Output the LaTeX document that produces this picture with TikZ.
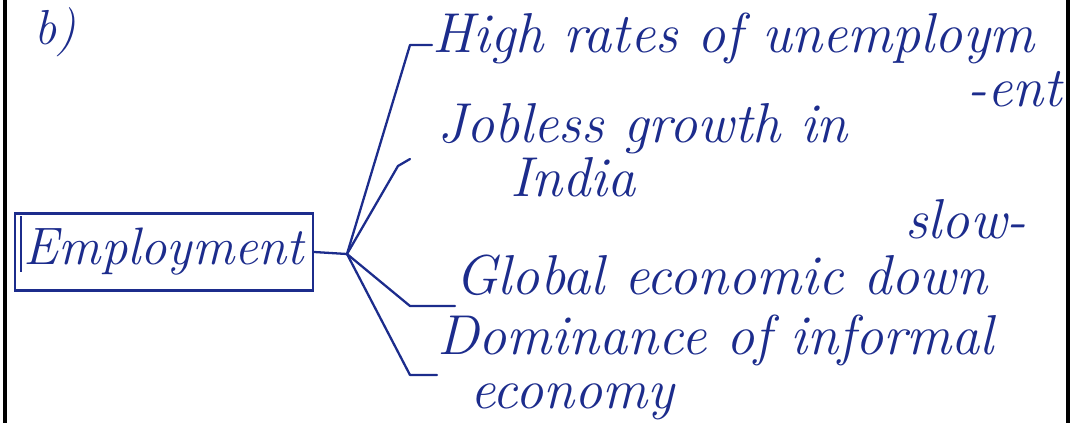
\documentclass[tikz,border=0pt]{standalone}
\definecolor{ink}{HTML}{1C2C8C}
\tikzset{
  hand/.style={ink, font=\fontsize{32}{36}\selectfont\itshape, inner sep=0pt, anchor=base west},
  link/.style={ink, line width=1.3pt, line cap=round, line join=round},
  frame/.style={black, line width=2.2pt}
}
\begin{document}
\begin{tikzpicture}[x=0.02cm,y=-0.02cm]
\useasboundingbox (0,0) rectangle (1083,423);
% page border lines
\draw[frame] (5,0) -- (5,423);
\draw[frame] (1068,0) -- (1068,423);
% label
\node[hand, font=\fontsize{28}{32}\selectfont\itshape] (lbl) at (34,44) {b)};
% central box
\node[ink, draw, line width=1.3pt, inner sep=0pt,
      minimum width=5.96cm, minimum height=1.54cm,
      font=\fontsize{30}{34}\selectfont\itshape] (emp) at (164,252) {Employment};
\draw[ink, line width=1.2pt] (21,216) -- (21,272);
% hub
\coordinate (hub) at (347,254);
% items
\node[hand] (t1) at (432,52) {High rates of unemploym};
\node[hand, anchor=base east] (t1b) at (1062,106) {-ent};
\node[hand] (t2) at (437,142) {Jobless growth in};
\node[hand] (t2b) at (510,196) {India};
\node[hand] (t3s) at (905,238) {slow-};
\node[hand] (t3) at (455,294) {Global economic down};
\node[hand] (t4) at (437,354) {Dominance of informal};
\node[hand] (t4b) at (470,408) {economy};
% tick corners
\coordinate (c1) at (410,45);
\coordinate (c2) at (398,166);
\coordinate (c3) at (410,306);
\coordinate (c4) at (410,375);
% connectors
\draw[link] (emp.east) -- (hub);
\draw[link] (hub) -- (c1) -- (c1 -| t1.west);
\draw[link] (hub) -- (c2) -- ++(12,-7);
\draw[link] (hub) -- (c3) -- (c3 -| t3.west);
\draw[link] (hub) -- (c4) -- (c4 -| t4.west);
\end{tikzpicture}
\end{document}
